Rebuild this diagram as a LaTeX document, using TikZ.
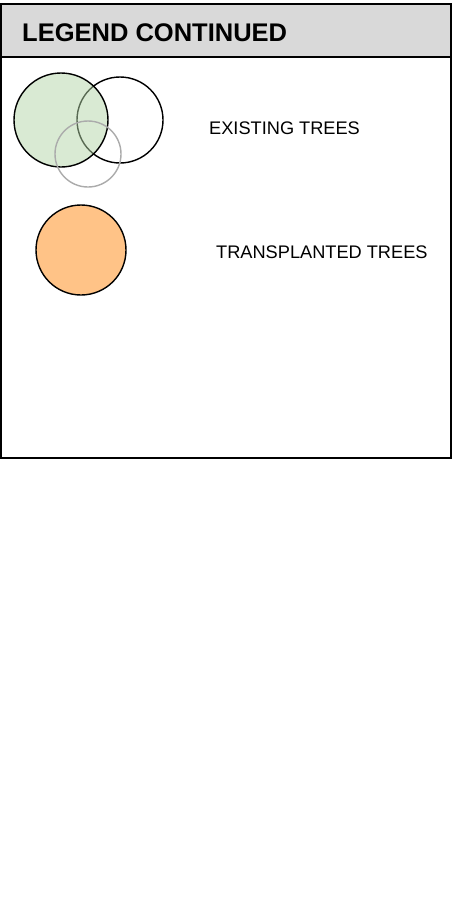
\documentclass[tikz,border=0pt]{standalone}
\usepackage{fontspec}
\setmainfont{Liberation Sans}
\usetikzlibrary{positioning}
\definecolor{headgray}{HTML}{D9D9D9}
\definecolor{treegreen}{HTML}{B3D5A7}
\definecolor{treeorange}{HTML}{FFC387}
\definecolor{ringgray}{HTML}{ABABAB}
\tikzset{
  tree/.style={circle, draw, line width=1.4pt, inner sep=0pt},
  legtext/.style={anchor=west, font=\fontsize{18.2}{21}\selectfont, inner sep=0pt}
}

\begin{document}
\begin{tikzpicture}[x=1pt,y=-1pt,line cap=round]
  \useasboundingbox (0,0) rectangle (457,905);
  %box del titolo
  \fill[headgray] (1,4) rectangle (451,57);
  \draw[line width=1.5pt] (1,57) -- (451,57);
  \draw[line width=1.8pt] (1,4) rectangle (451,458);
  \node[anchor=west, inner sep=0pt, font=\fontsize{25.5}{28}\selectfont\bfseries] (title) at (22,33) {LEGEND CONTINUED};

  %alberi esistenti
  \node[tree, minimum size=86pt] (oldb) at (120,120) {};
  \node[tree, minimum size=94pt, fill=treegreen, fill opacity=0.5] (olda) at (61,120) {};
  \node[tree, draw=ringgray, minimum size=66pt] (oldc) at (88,154) {};
  \node[legtext] (existing) at (209,128) {EXISTING TREES};

  %alberi trapiantati
  \node[tree, minimum size=90pt, fill=treeorange] (moved) at (81,250) {};
  \node[legtext] (transplanted) at (216,252) {TRANSPLANTED TREES};
\end{tikzpicture}
\end{document}
